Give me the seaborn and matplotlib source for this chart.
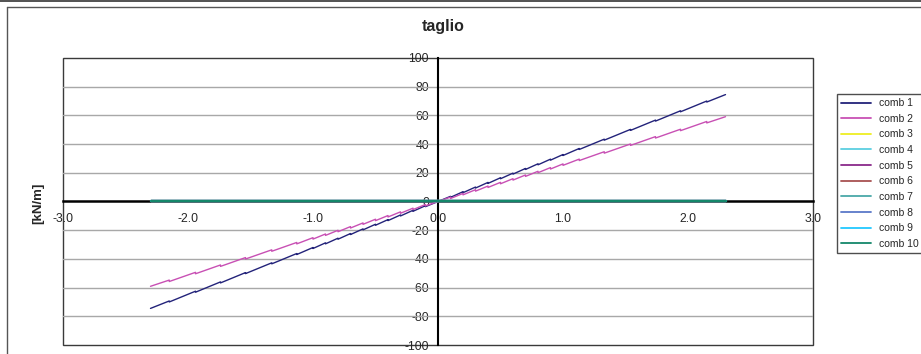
import matplotlib
matplotlib.use("Agg")
import matplotlib.pyplot as plt
from matplotlib.lines import Line2D
from matplotlib.patches import Rectangle
import seaborn as sns
import pandas as pd

# Shear diagram along the section, abscissa in metres
x_curve = [-2.3,
           -2.15, -2.15, -1.94, -1.94, -1.74, -1.74, -1.54, -1.54,
           -1.33, -1.33, -1.13, -1.13, -1.0, -1.0, -0.9, -0.9,
           -0.8, -0.8, -0.7, -0.7, -0.6, -0.6, -0.5, -0.5,
           -0.4, -0.4, -0.3, -0.3, -0.2, -0.2, -0.1, -0.1,
           0.0,
           0.1, 0.1, 0.2, 0.2, 0.3, 0.3, 0.4, 0.4,
           0.5, 0.5, 0.6, 0.6, 0.7, 0.7, 0.8, 0.8,
           0.9, 0.9, 1.0, 1.0, 1.13, 1.13, 1.33, 1.33,
           1.54, 1.54, 1.74, 1.74, 1.94, 1.94, 2.15, 2.15,
           2.3]

comb1 = [-74.5,
         -69.31, -70.01, -62.51, -63.21, -56.03, -56.73, -49.55, -50.25,
         -42.74, -43.44, -36.26, -36.96, -32.05, -32.75, -28.81, -29.51,
         -25.57, -26.27, -22.33, -23.03, -19.09, -19.79, -15.85, -16.55,
         -12.61, -13.31, -9.37, -10.07, -6.13, -6.83, -2.89, -3.59,
         0.0,
         3.59, 2.89, 6.83, 6.13, 10.07, 9.37, 13.31, 12.61,
         16.55, 15.85, 19.79, 19.09, 23.03, 22.33, 26.27, 25.57,
         29.51, 28.81, 32.75, 32.05, 36.96, 36.26, 43.44, 42.74,
         50.25, 49.55, 56.73, 56.03, 63.21, 62.51, 70.01, 69.31,
         74.5]

comb2 = [-59.1,
         -54.76, -55.76, -49.36, -50.36, -44.22, -45.22, -39.08, -40.08,
         -33.68, -34.68, -28.54, -29.54, -25.2, -26.2, -22.63, -23.63,
         -20.06, -21.06, -17.49, -18.49, -14.92, -15.92, -12.35, -13.35,
         -9.78, -10.78, -7.21, -8.21, -4.64, -5.64, -2.07, -3.07,
         0.0,
         3.07, 2.07, 5.64, 4.64, 8.21, 7.21, 10.78, 9.78,
         13.35, 12.35, 15.92, 14.92, 18.49, 17.49, 21.06, 20.06,
         23.63, 22.63, 26.2, 25.2, 29.54, 28.54, 34.68, 33.68,
         40.08, 39.08, 45.22, 44.22, 50.36, 49.36, 55.76, 54.76,
         59.1]

# Combinations with no shear
x_flat = [-2.3, 2.3]
v_flat = [0.0, 0.0]

comb_names = ["comb 1", "comb 2", "comb 3", "comb 4", "comb 5",
              "comb 6", "comb 7", "comb 8", "comb 9", "comb 10"]
comb_colors = ["#23237a", "#c850b4", "#eeee22", "#5ccfe0", "#8a2a8a",
               "#a85252", "#4aa8a8", "#5a78c8", "#22c8ff", "#14876a"]

x_ticks = [-3.0, -2.0, -1.0, 0.0, 1.0, 2.0, 3.0]
y_ticks = [-100, -80, -60, -40, -20, 0, 20, 40, 60, 80, 100]

frames = [pd.DataFrame({"x": x_curve, "v": comb1, "comb": comb_names[0]}),
          pd.DataFrame({"x": x_curve, "v": comb2, "comb": comb_names[1]})]
for name in comb_names[2:]:
    frames.append(pd.DataFrame({"x": x_flat, "v": v_flat, "comb": name}))
df = pd.concat(frames, ignore_index=True)

sns.set_style("white")
plt.rcParams["font.family"] = ["Liberation Sans", "DejaVu Sans"]

fig = plt.figure(figsize=(9.21, 3.54), dpi=100)
ax = fig.add_axes([63 / 921, 1 - 345 / 354, 750 / 921, 287 / 354])

palette = dict(zip(comb_names, comb_colors))
sns.lineplot(data=df, x="x", y="v", hue="comb", palette=palette,
             estimator=None, sort=False, linewidth=1.0, ax=ax,
             legend=False, zorder=3)
# the combinations lying on the zero axis are drawn a bit heavier
for ln in ax.get_lines()[2:]:
    ln.set_linewidth(1.6)

ax.set_xlim(-3, 3)
ax.set_ylim(-100, 100)

# horizontal grid
for yv in y_ticks:
    if yv not in (-100, 100, 0):
        ax.axhline(yv, color="#a8a8a8", lw=1.0, zorder=1)

# axes crossing at the origin
for side in ("top", "right"):
    ax.spines[side].set_visible(False)
ax.spines["left"].set_position(("data", 0))
ax.spines["bottom"].set_position(("data", 0))
ax.spines["left"].set_color("black")
ax.spines["bottom"].set_color("black")
ax.spines["left"].set_linewidth(1.5)
ax.spines["bottom"].set_linewidth(1.8)
ax.spines["left"].set_zorder(2)
ax.spines["bottom"].set_zorder(2)

ax.set_xticks(x_ticks)
ax.set_xticklabels([f"{t:.1f}" for t in x_ticks])
ax.set_yticks(y_ticks)
ax.set_yticklabels([str(t) for t in y_ticks])
ax.tick_params(axis="both", direction="out", length=4, width=1,
               color="black", labelsize=8.8, pad=2.5)
ax.tick_params(axis="x", pad=4)
ax.set_xlabel("")
ax.set_ylabel("")

# plot-area frame
ax.add_patch(Rectangle((0, 0), 1, 1, transform=ax.transAxes, fill=False,
                       edgecolor="#3a3a3a", lw=1.0, zorder=0.5,
                       clip_on=False))

fig.text(443 / 921, 1 - 27 / 354, "taglio", ha="center", va="center",
         fontsize=11.5, fontweight="bold")
fig.text(38 / 921, 1 - 203 / 354, "[kN/m]", ha="center", va="center",
         rotation=90, fontsize=9.5, fontweight="bold")

# chart border lines
fig.add_artist(Line2D([0, 1], [1 - 0.5 / 354, 1 - 0.5 / 354],
                      transform=fig.transFigure, color="#333333", lw=1.2))
fig.add_artist(Line2D([7 / 921, 1], [1 - 7 / 354, 1 - 7 / 354],
                      transform=fig.transFigure, color="#555555", lw=1.0))
fig.add_artist(Line2D([7 / 921, 7 / 921], [0, 1 - 7 / 354],
                      transform=fig.transFigure, color="#555555", lw=1.0))

handles = [Line2D([0], [0], color=c, lw=1.3) for c in comb_colors]
leg = fig.legend(handles, comb_names, loc="upper left",
                 bbox_to_anchor=(837 / 921, 1 - 94 / 354),
                 frameon=True, fancybox=False, fontsize=7.5,
                 handlelength=2.9, handletextpad=0.7, labelspacing=0.54,
                 borderpad=0.4, borderaxespad=0)
leg.get_frame().set_edgecolor("#222222")
leg.get_frame().set_linewidth(1.0)

fig.savefig("out.png", dpi=100)
